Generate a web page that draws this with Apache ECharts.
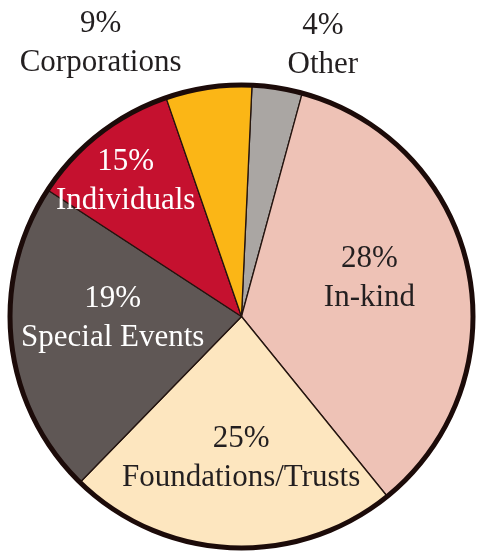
<!DOCTYPE html>
<html>
<head>
<meta charset="utf-8">
<script src="https://cdn.jsdelivr.net/npm/echarts@6/dist/echarts.min.js"></script>
<style>
  html, body { margin: 0; padding: 0; background: #fff; }
  #chart { width: 478px; height: 552px; }
</style>
</head>
<body>
<div id="chart"></div>
<script>
// slices clockwise from the top
const categories = ["Other", "In-kind", "Foundations/Trusts", "Special Events", "Individuals", "Corporations"];
// slice sizes as drawn (share of the circle, %)
const shares = [3.5, 34.9, 23.1, 21.9, 10.5, 6.0];
// percentages printed on the labels
const printedPct = [4, 28, 25, 19, 15, 9];

const sliceColors = ["#aaa6a3", "#eec2b6", "#fde6bf", "#5f5755", "#c5112f", "#fbb616"];
const labelColors = ["#231f20", "#231f20", "#231f20", "#ffffff", "#ffffff", "#231f20"];
// nudges from the default inside position
const labelOffsets = [[63, -154], [12, -14], [5, 23], [-11, -11], [-43, -42], [-124, -156]];

const chart = echarts.init(document.getElementById("chart"));

const pieData = categories.map((name, i) => ({
  name: name,
  value: shares[i],
  pct: printedPct[i],
  itemStyle: { color: sliceColors[i] },
  label: { color: labelColors[i], offset: labelOffsets[i] }
}));

chart.setOption({
  animation: false,
  series: [
    {
      type: "pie",
      center: [241.5, 316.5],
      radius: [0, 231],
      startAngle: 87.4,
      clockwise: true,
      avoidLabelOverlap: false,
      silent: true,
      itemStyle: { borderColor: "#24140f", borderWidth: 1.3 },
      label: {
        show: true,
        position: "inside",
        fontFamily: "Liberation Serif",
        fontSize: 31,
        lineHeight: 39,
        align: "center",
        formatter: (p) => p.data.pct + "%\n" + p.name
      },
      labelLine: { show: false },
      data: pieData
    },
    {
      // dark rim round the pie
      type: "pie",
      center: [241.5, 316.5],
      radius: [229, 234],
      silent: true,
      label: { show: false },
      labelLine: { show: false },
      itemStyle: { color: "#1c0b09" },
      data: [{ value: 1, name: "rim" }]
    }
  ]
});
</script>
</body>
</html>
